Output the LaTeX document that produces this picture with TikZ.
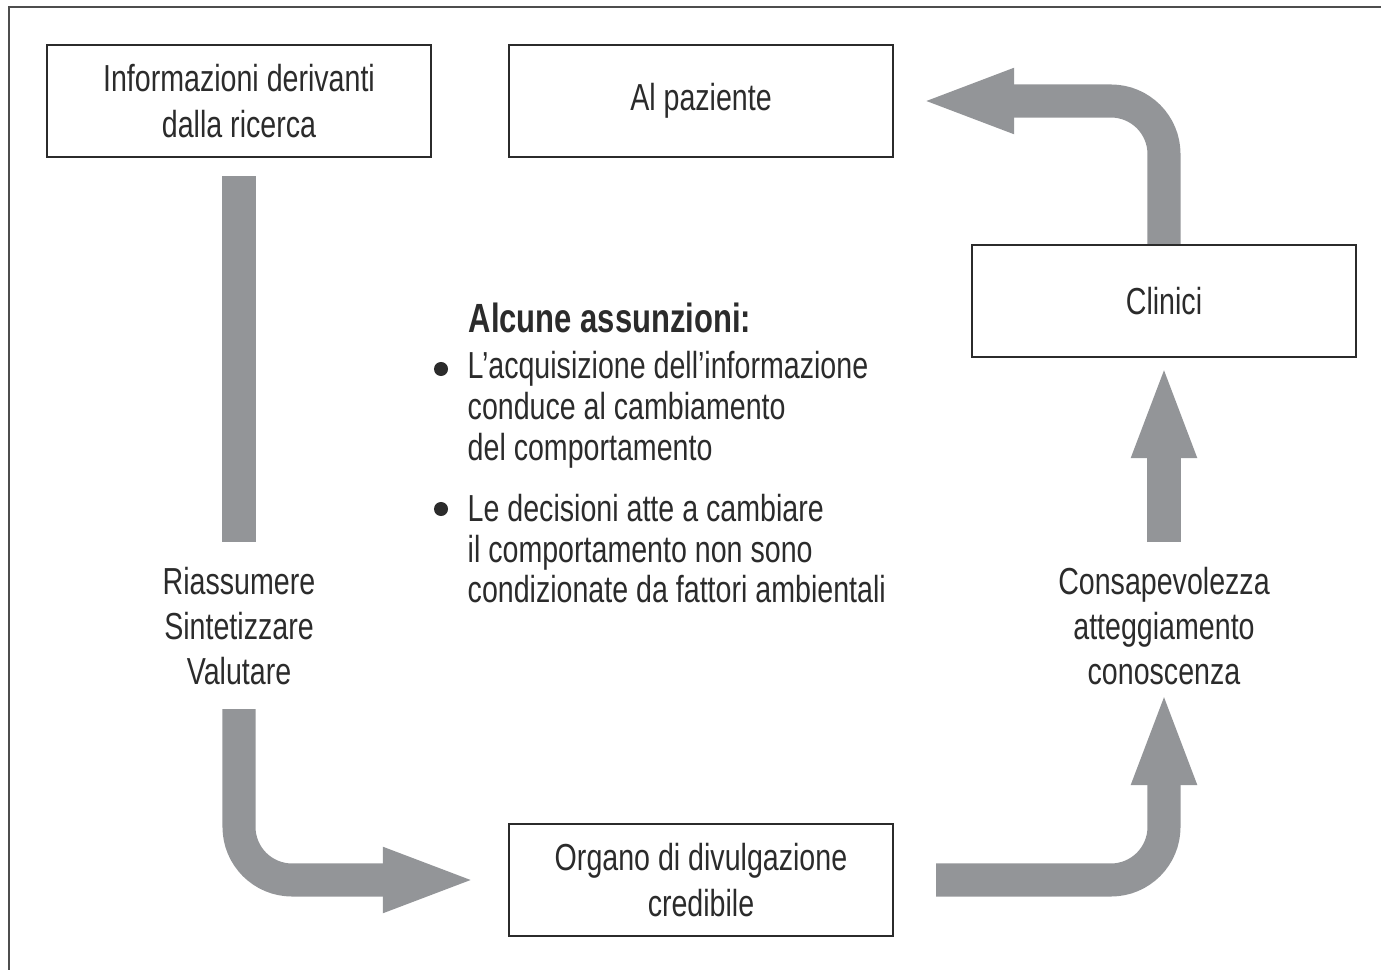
\documentclass[tikz,border=0pt]{standalone}
\usepackage{fontspec}
\setmainfont{Liberation Sans}[FakeStretch=0.76]
\usetikzlibrary{arrows.meta}
\definecolor{arrowgray}{HTML}{939598}
\definecolor{inkgray}{HTML}{2B2B2B}
\definecolor{framegray}{HTML}{4D4D4D}

\begin{document}
\begin{tikzpicture}[x=0.01cm,y=-0.01cm,
    font=\fontsize{10.7}{12.9}\selectfont,text=inkgray,
    box/.style={draw=inkgray,line width=0.6pt,minimum width=3.84cm,minimum height=1.12cm,align=center,inner sep=0pt},
    txt/.style={align=center,inner sep=0pt},
    dot/.style={circle,fill=inkgray,inner sep=0pt,minimum size=0.14cm},
    fat/.style={draw=arrowgray,line width=0.33cm,rounded corners=0.53cm},
    fathead/.style={fat,-{Triangle[length=0.95cm,width=0.58cm]}}]
    \useasboundingbox (0,0) rectangle (1381,970);
    \draw[framegray,line width=0.7pt] (9,970)--(9,7)--(1381,7);

    \node[box] (info) at (239,101) {Informazioni derivanti\\dalla ricerca};
    \node[box] (paziente) at (701,101) {Al paziente};
    \node[box] (clinici) at (1164,301) {Clinici};
    \node[box] (organo) at (701,880) {Organo di divulgazione\\credibile};
    \node[txt] (riass) at (239,626) {Riassumere\\Sintetizzare\\Valutare};
    \node[txt] (consap) at (1164,626) {Consapevolezza\\atteggiamento\\conoscenza};

    \begin{scope}[font=\fontsize{10.7}{11.65}\selectfont]
      \node[anchor=base west,inner sep=0pt,font=\fontsize{11.6}{13}\selectfont\bfseries] (assunz) at (468,333) {Alcune assunzioni:};
      \node[anchor=base west,inner sep=0pt,align=left] (item1) at (467,460)
           {L’acquisizione dell’informazione\\conduce al cambiamento\\del comportamento};
      \node[anchor=base west,inner sep=0pt,align=left] (item2) at (467,603)
           {Le decisioni atte a cambiare\\il comportamento non sono\\condizionate da fattori ambientali};
      \node[dot] (b1) at (441,369) {};
      \node[dot] (b2) at (441,509) {};
    \end{scope}

    \coordinate (riassTop) at (239,542);
    \coordinate (riassBot) at (239,709);
    \coordinate (consTop) at (1164,542);
    \coordinate (consBot) at (1164,690);

    \draw[fat] ([yshift=-0.18cm]info.south) -- (riassTop);
    \draw[fathead] (riassBot) |- ([xshift=-0.30cm]organo.west);
    \draw[fathead] ([xshift=0.42cm]organo.east) -| (consBot);
    \draw[fathead] (consTop) -- ([yshift=-0.05cm]clinici.south);
    \draw[fathead] (clinici.north) |- ([xshift=0.25cm]paziente.east);
\end{tikzpicture}
\end{document}
